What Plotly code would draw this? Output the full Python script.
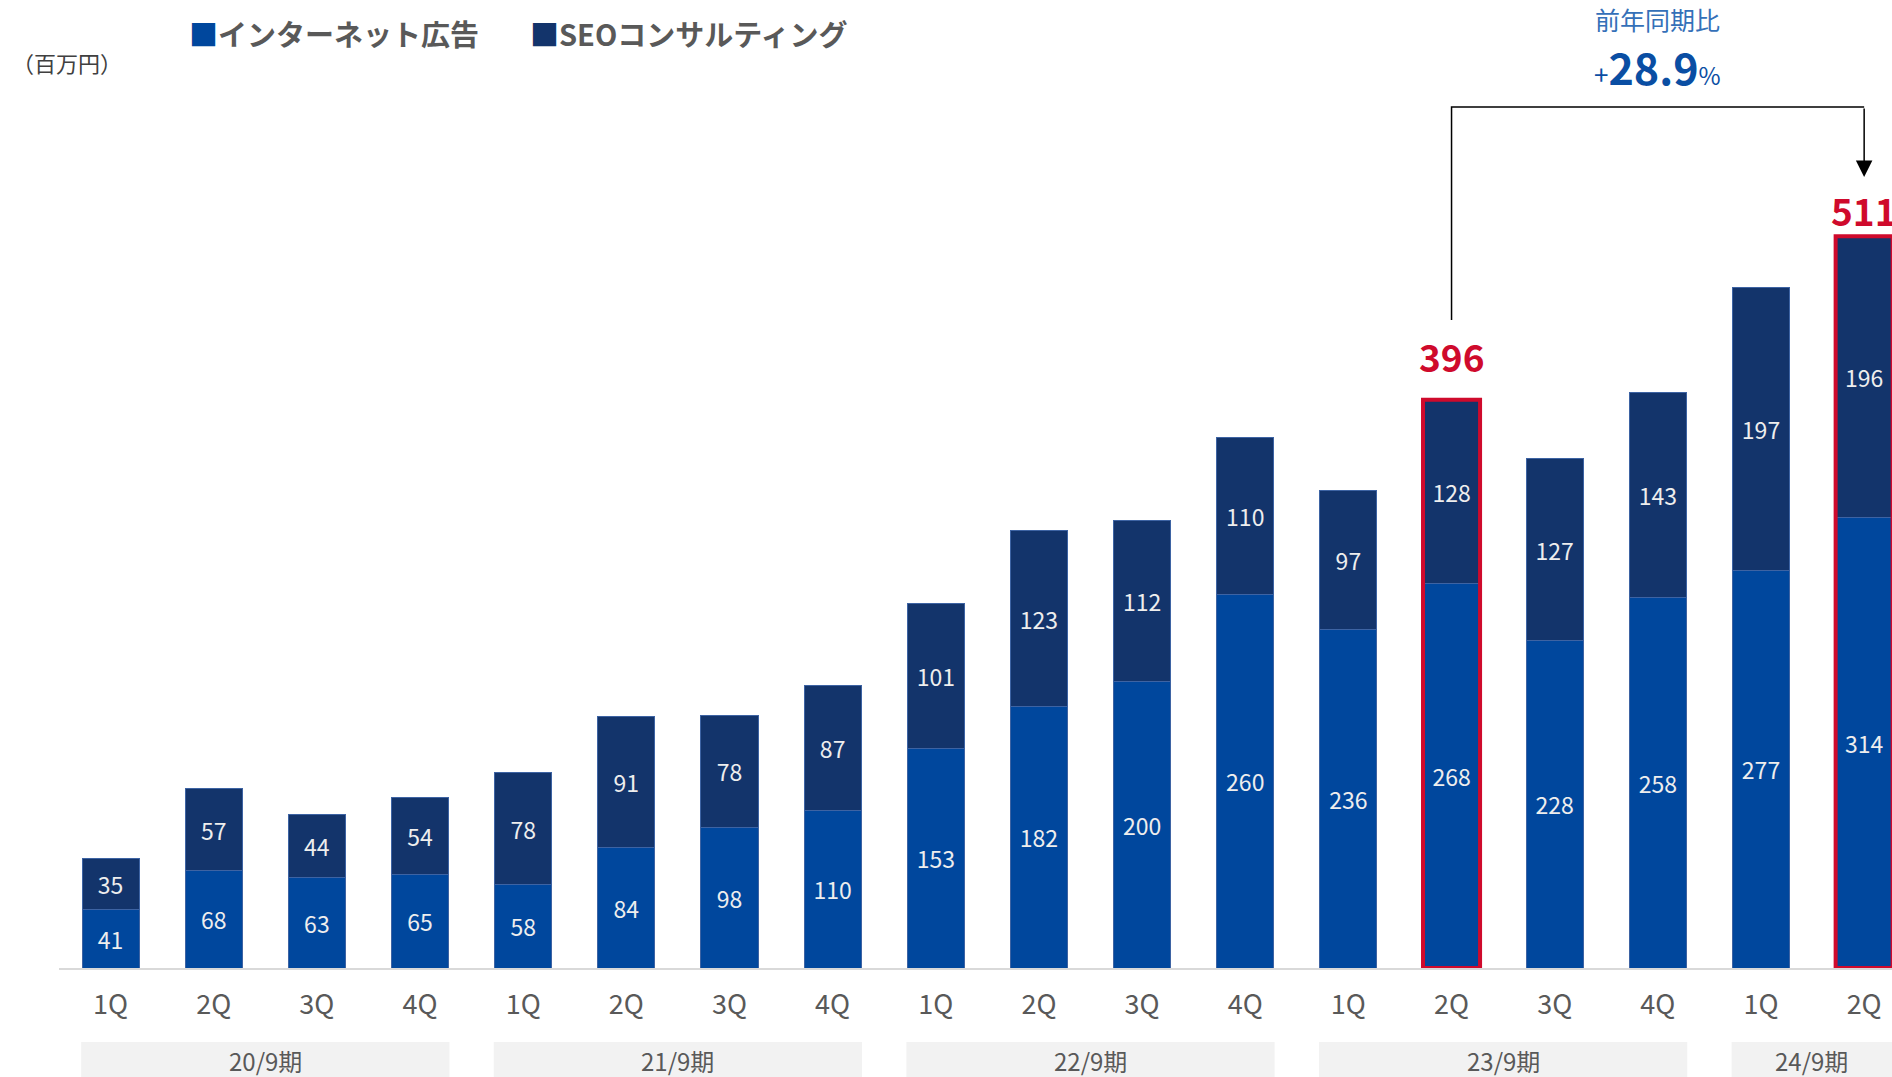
import plotly.graph_objects as go

# ---------------- data ----------------
quarters = ["1Q", "2Q", "3Q", "4Q", "1Q", "2Q", "3Q", "4Q", "1Q", "2Q", "3Q", "4Q",
            "1Q", "2Q", "3Q", "4Q", "1Q", "2Q"]
periods = ["20/9期", "21/9期", "22/9期", "23/9期", "24/9期"]
internet_ad = [41, 68, 63, 65, 58, 84, 98, 110, 153, 182, 200, 260, 236, 268, 228, 258, 277, 314]
seo_consulting = [35, 57, 44, 54, 78, 91, 78, 87, 101, 123, 112, 110, 97, 128, 127, 143, 197, 196]
highlight_idx = [13, 17]
highlight_labels = ["396", "511"]
yoy_title = "前年同期比"
yoy_value = "28.9"
series_names = ["インターネット広告", "SEOコンサルティング"]
unit_label = "（百万円）"

# ---------------- style ----------------
FONT = "Noto Sans CJK JP"
BLUE = "#00479d"
NAVY = "#13346b"
RED = "#cf0a2c"
GRAY = "#595959"
W, H = 1892, 1077
ML, MB = 59, 109
PLOT_H = H - MB
BARGAP = 0.447
BW = 1 - BARGAP
Y_MAX = 674.6
X_RANGE = [-0.5, 17.27]

x = list(range(len(quarters)))
totals = [a + b for a, b in zip(internet_ad, seo_consulting)]


def py(pixel_y):
    """pixel y (from top) -> data y"""
    return (PLOT_H - pixel_y) / PLOT_H * Y_MAX


def px_paper(pixel_x):
    return (pixel_x - ML) / (W - ML)


fig = go.Figure()
for vals, col, name in [(internet_ad, BLUE, series_names[0]), (seo_consulting, NAVY, series_names[1])]:
    fig.add_trace(go.Bar(
        x=x, y=vals, name=name, marker_color=col,
        marker_line=dict(width=1, color="#3d63a3"),
        text=[str(v) for v in vals], textposition="inside", insidetextanchor="middle",
        textangle=0, constraintext="none",
        textfont=dict(family=FONT, size=23, color="#eeeeee"),
        showlegend=False, hoverinfo="skip",
    ))

shapes = []
annotations = []

# period boxes + labels (label centred on the visible part of the box)
for i, p in enumerate(periods):
    c = 4 * i + 1.5
    x0, x1 = c - 1.785, c + 1.785
    shapes.append(dict(type="rect", xref="x", yref="paper", x0=x0, x1=x1,
                       y0=-(1042 - PLOT_H) / PLOT_H, y1=-(1080 - PLOT_H) / PLOT_H,
                       fillcolor="#f2f2f2", line=dict(width=0), layer="below"))
    lc = (x0 + min(x1, X_RANGE[1])) / 2
    annotations.append(dict(x=lc, y=-(1060 - PLOT_H) / PLOT_H, xref="x", yref="paper",
                            text=p, showarrow=False, yanchor="middle",
                            font=dict(family=FONT, size=24, color=GRAY)))

# highlighted bars
label_shift = [44, 26]
for k, i in enumerate(highlight_idx):
    shapes.append(dict(type="rect", xref="x", yref="y", x0=i - BW / 2, x1=i + BW / 2,
                       y0=0, y1=totals[i], line=dict(color=RED, width=4),
                       fillcolor="rgba(0,0,0,0)", layer="above"))
    annotations.append(dict(x=i, y=totals[i], xref="x", yref="y", text="<b>%s</b>" % highlight_labels[k],
                            showarrow=False, yanchor="middle", yshift=label_shift[k],
                            font=dict(family=FONT, size=37, color=RED)))

# elbow connector
a, b = highlight_idx
shapes.append(dict(type="path", xref="x", yref="y",
                   path="M%f,%f L%f,%f L%f,%f" % (a, py(320), a, py(107), b, py(107)),
                   line=dict(color="#000000", width=1.5)))
annotations.append(dict(x=b, y=py(177), ax=b, ay=py(107), xref="x", yref="y", axref="x", ayref="y",
                        text="", showarrow=True, arrowhead=2, arrowsize=2.2, arrowwidth=1.5,
                        arrowcolor="#000000"))

mid = (a + b) / 2
annotations.append(dict(x=mid, y=py(19), xref="x", yref="y", text=yoy_title, showarrow=False,
                        yanchor="middle", font=dict(family=FONT, size=25, color="#3470b8")))
annotations.append(dict(x=mid, y=py(66), xref="x", yref="y",
                        text='<span style="font-size:26px">+</span><b>%s</b><span style="font-size:24px">%%</span>' % yoy_value,
                        showarrow=False, yanchor="middle", font=dict(family=FONT, size=43, color="#0a4ea3")))

# unit label
annotations.append(dict(x=px_paper(10), y=py(62), xref="paper", yref="y", text=unit_label,
                        showarrow=False, xanchor="left", yanchor="middle",
                        font=dict(family=FONT, size=22, color="#404040")))

# legend (as annotations)
for name, col, left in [(series_names[0], BLUE, 187), (series_names[1], NAVY, 528)]:
    annotations.append(dict(x=px_paper(left), y=py(33), xref="paper", yref="y",
                            text='<span style="color:%s">■</span><b>%s</b>' % (col, name),
                            showarrow=False, xanchor="left", yanchor="middle",
                            font=dict(family=FONT, size=29, color=GRAY)))

fig.update_layout(
    width=W, height=H, barmode="stack", bargap=BARGAP,
    margin=dict(l=ML, r=0, t=0, b=MB, pad=0),
    paper_bgcolor="white", plot_bgcolor="white",
    shapes=shapes, annotations=annotations,
    xaxis=dict(range=X_RANGE, tickvals=x, ticktext=quarters, showgrid=False, zeroline=False,
               showline=True, linecolor="#d9d9d9", linewidth=2, ticks="",
               ticklabelstandoff=12, tickfont=dict(family=FONT, size=27, color=GRAY)),
    yaxis=dict(range=[0, Y_MAX], visible=False, showgrid=False, zeroline=False),
    font=dict(family=FONT),
)

fig.write_html("out.html", config={"displayModeBar": False},
               post_script="document.body.style.margin='0';document.body.style.overflow='hidden';")
